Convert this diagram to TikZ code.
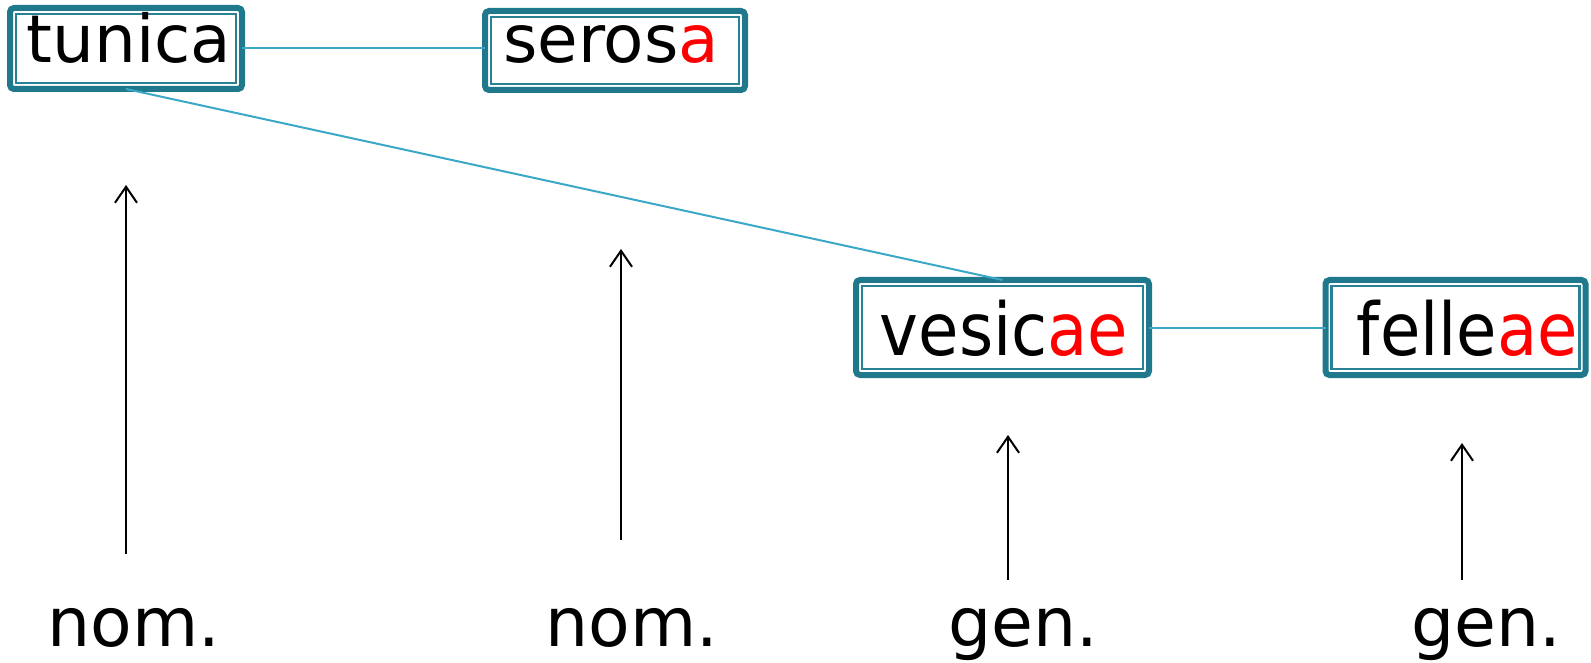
\documentclass[tikz,border=0pt]{standalone}
\usepackage{fontspec}
\setmainfont{DejaVu Sans}
\usetikzlibrary{arrows.meta}
\definecolor{boxteal}{RGB}{31,120,140}
\definecolor{innerteal}{RGB}{40,130,150}
\definecolor{linkblue}{RGB}{60,168,200}
\definecolor{endred}{RGB}{255,0,0}
\tikzset{
  wordbox/.style={draw=boxteal, line width=6pt, fill=white, rounded corners=4pt,
    inner sep=0pt, outer sep=0pt,
    path picture={\draw[innerteal, line width=2.5pt, sharp corners]
      ([shift={(6pt,6pt)}]path picture bounding box.south west) rectangle
      ([shift={(-6pt,-6pt)}]path picture bounding box.north east);}},
  wordtop/.style={anchor=base, inner sep=0pt, font=\fontsize{66}{70}\selectfont},
  wordlow/.style={anchor=base, inner sep=0pt, font=\fontsize{73}{78}\selectfont},
  caselabel/.style={anchor=base, inner sep=0pt, font=\fontsize{68}{72}\selectfont},
  link/.style={draw=linkblue, line width=2pt},
  uparrow/.style={draw=black, line width=2pt, -{Straight Barb[length=16pt,width=22pt,line width=2pt]}}
}
\begin{document}
\begin{tikzpicture}[x=1pt,y=-1pt]
\useasboundingbox (0,0) rectangle (1591,663);
% boxes
\node[wordbox, minimum width=232pt, minimum height=81pt] (tunicaB) at (126,48.5) {};
\node[wordbox, minimum width=260pt, minimum height=79pt] (serosaB) at (615,50.5) {};
\node[wordbox, minimum width=293pt, minimum height=95pt] (vesicaeB) at (1002.5,327.5) {};
\node[wordbox, minimum width=260pt, minimum height=95pt] (felleaeB) at (1455.5,327.5) {};
% connectors
\draw[link] (tunicaB.east) -- (tunicaB.east -| serosaB.west);
\draw[link] (tunicaB.south) -- (vesicaeB.north);
\draw[link] (vesicaeB.east) -- (felleaeB.west);
% words
\node[wordtop] (tunica) at (129,63) {tunica};
\node[wordtop] (serosa) at (611,63) {seros\textcolor{endred}{a}};
\node[wordlow] (vesicae) at (1004,355) {\scalebox{0.9}[1]{vesic\textcolor{endred}{ae}}};
\node[wordlow] (felleae) at (1467.5,355) {\scalebox{0.9}[1]{felle\textcolor{endred}{ae}}};
% case labels
\node[caselabel] (nom1) at (134,646) {nom.};
\node[caselabel] (nom2) at (632,646) {nom.};
\node[caselabel] (gen1) at (1023.5,646) {gen.};
\node[caselabel] (gen2) at (1486,646) {gen.};
% arrows
\coordinate (a1s) at (126,554); \coordinate (a1e) at (126,185);
\coordinate (a2s) at (621,540); \coordinate (a2e) at (621,249);
\coordinate (a3s) at (1008,580); \coordinate (a3e) at (1008,435);
\coordinate (a4s) at (1462,580); \coordinate (a4e) at (1462,443);
\draw[uparrow] (a1s) -- (a1e);
\draw[uparrow] (a2s) -- (a2e);
\draw[uparrow] (a3s) -- (a3e);
\draw[uparrow] (a4s) -- (a4e);
\end{tikzpicture}
\end{document}
